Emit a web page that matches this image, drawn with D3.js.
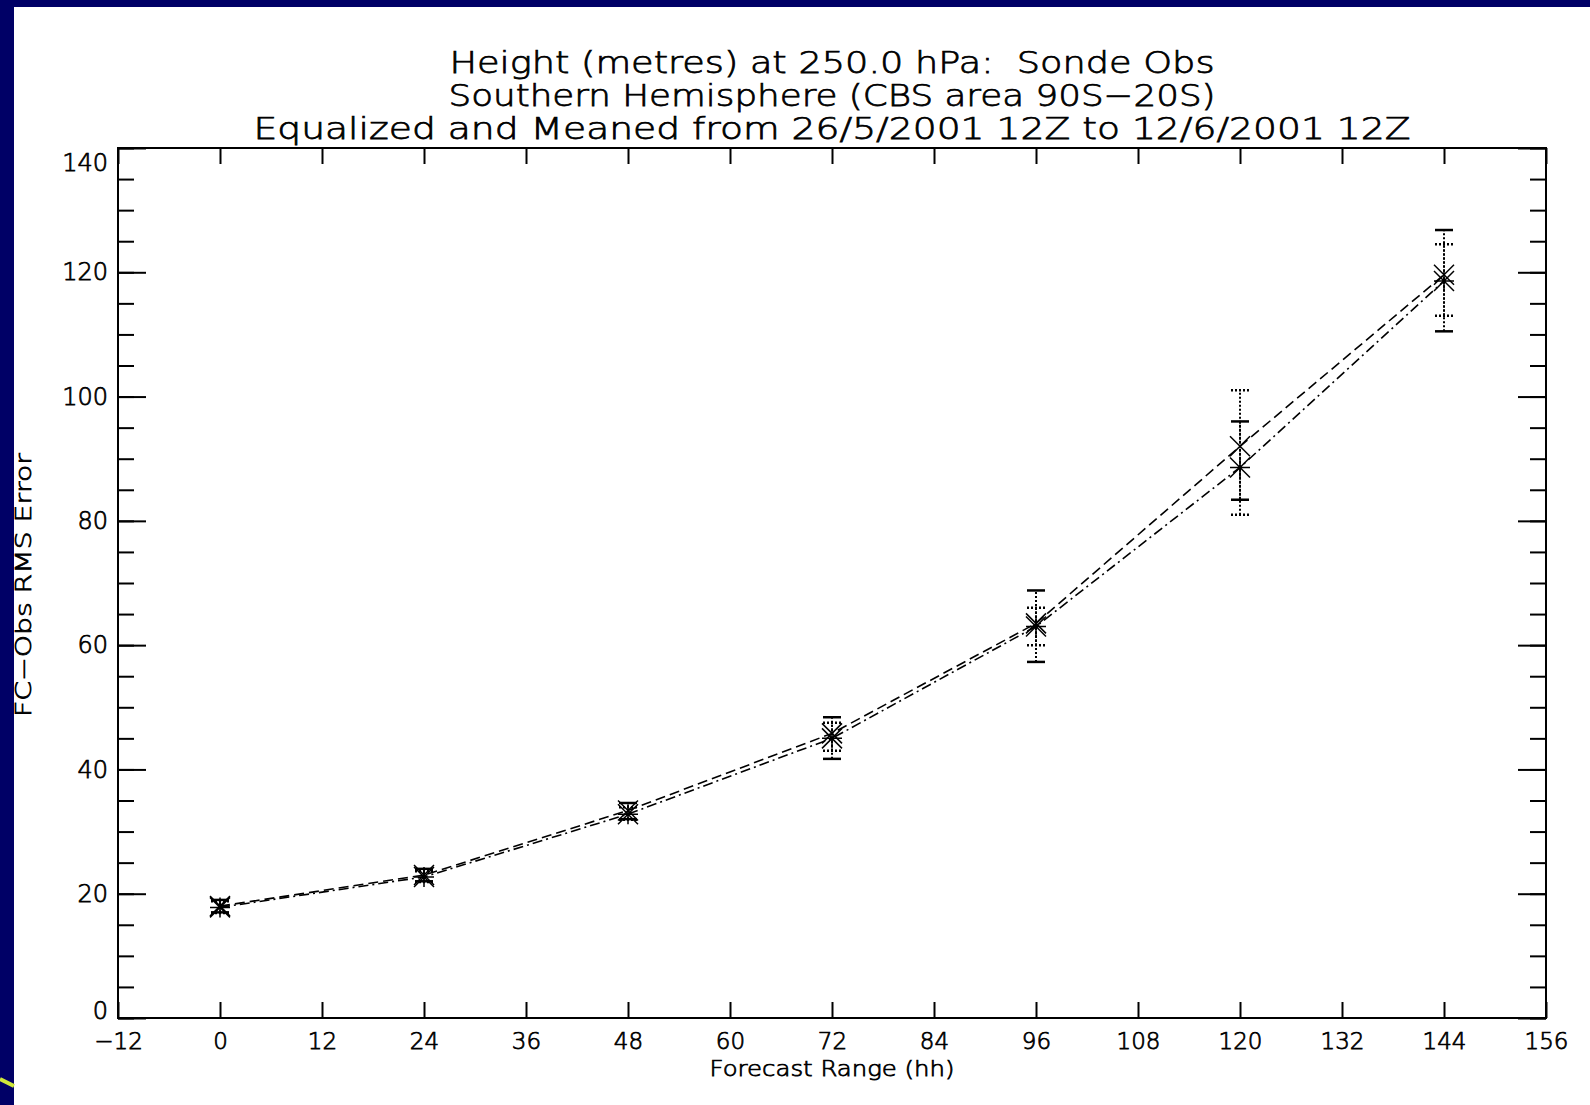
<!DOCTYPE html>
<html>
<head>
<meta charset="utf-8">
<script src="https://cdnjs.cloudflare.com/ajax/libs/d3/7.8.5/d3.min.js"></script>
<style>
  html, body { margin: 0; padding: 0; background: #000066; }
  svg { display: block; }
  text { font-family: "DejaVu Sans", "Liberation Sans", sans-serif; fill: #000; }
  .thin { font-weight: 200; stroke: #000; stroke-width: 0.75px; }
</style>
</head>
<body>
<svg id="chart" width="1590" height="1105"></svg>
<script>
// ---- data ----
const titleLines = [
  "Height (metres) at 250.0 hPa:  Sonde Obs",
  "Southern Hemisphere (CBS area 90S\u221220S)",
  "Equalized and Meaned from 26/5/2001 12Z to 12/6/2001 12Z"
];
const xLabel = "Forecast Range (hh)";
const yLabel = "FC\u2212Obs RMS Error";
const forecastRange = [0, 24, 48, 72, 96, 120, 144];
const xTicks = [-12, 0, 12, 24, 36, 48, 60, 72, 84, 96, 108, 120, 132, 144, 156];
const yTicks = [0, 20, 40, 60, 80, 100, 120, 140];
const yMinorTicks = [0,5,10,15,20,25,30,35,40,45,50,55,60,65,70,75,80,85,90,95,100,105,110,115,120,125,130,135,140];

// series A (dashed)
const rmsA   = [18.0, 23.0, 33.4, 45.8, 63.5, 92.0, 119.6];
const loA    = [17.0, 22.0, 32.0, 41.7, 57.3, 83.4, 110.5];
const hiA    = [19.0, 24.0, 34.6, 48.4, 68.8, 96.0, 126.8];
// series B (dash-dot)
const rmsB   = [17.8, 22.7, 32.8, 45.0, 63.0, 88.6, 118.6];
const loB    = [16.9, 21.9, 31.9, 43.0, 60.0, 81.0, 113.0];
const hiB    = [18.8, 23.6, 33.9, 47.5, 66.0, 101.0, 124.5];

// ---- layout ----
const svg = d3.select("#chart");
svg.append("rect").attr("x", 14).attr("y", 7).attr("width", 1576).attr("height", 1098).attr("fill", "#fff");
svg.append("path").attr("d", "M0,1079 L14,1086").attr("stroke", "#cfe83a").attr("stroke-width", 4).attr("fill", "none");

const L = 118, R = 1546, T = 148, B = 1018;
const x = d3.scaleLinear().domain([-12, 156]).range([L, R]);
const y = d3.scaleLinear().domain([0, 140]).range([B, T]);

// title
const cx = (L + R) / 2;
const titleWidths = [765, 767, 1157];
const titleBase = [73, 106, 139];
titleLines.forEach((t, i) => {
  svg.append("text").attr("class", "thin").attr("x", cx).attr("y", titleBase[i]).attr("text-anchor", "middle")
    .style("white-space", "pre")
    .attr("font-size", 31)
    .attr("textLength", titleWidths[i]).attr("lengthAdjust", "spacingAndGlyphs").text(t);
});

// axes
function styleAxis(g) {
  g.select(".domain").remove();
  g.selectAll(".tick line").attr("stroke", "#000").attr("stroke-width", 2);
  g.selectAll("text").attr("class", "thin").attr("fill", "#000").style("font-family", "DejaVu Sans, sans-serif");
}
const fmt = d3.format("d");
svg.append("g").attr("transform", `translate(0,${B})`)
  .call(d3.axisBottom(x).tickValues(xTicks).tickFormat(fmt).tickSizeInner(-16).tickSizeOuter(0).tickPadding(15))
  .call(styleAxis).call(g => g.selectAll("text").attr("font-size", 23));
svg.append("g").attr("transform", `translate(0,${T})`)
  .call(d3.axisTop(x).tickValues(xTicks).tickFormat("").tickSizeInner(-16).tickSizeOuter(0))
  .call(styleAxis);
svg.append("g").attr("transform", `translate(${L},0)`)
  .call(d3.axisLeft(y).tickValues(yMinorTicks).tickFormat("").tickSizeInner(-16).tickSizeOuter(0))
  .call(styleAxis);
svg.append("g").attr("transform", `translate(${L},0)`)
  .call(d3.axisLeft(y).tickValues(yTicks).tickFormat(fmt).tickSizeInner(-28).tickSizeOuter(0).tickPadding(10))
  .call(styleAxis)
  .call(g => g.selectAll("text").attr("font-size", 24)
    .attr("dy", d => d === 140 ? "0.95em" : d === 0 ? "0.0em" : "0.32em"));
svg.append("g").attr("transform", `translate(${R},0)`)
  .call(d3.axisRight(y).tickValues(yMinorTicks).tickFormat("").tickSizeInner(-16).tickSizeOuter(0))
  .call(styleAxis);
svg.append("g").attr("transform", `translate(${R},0)`)
  .call(d3.axisRight(y).tickValues(yTicks).tickFormat("").tickSizeInner(-28).tickSizeOuter(0))
  .call(styleAxis);

// frame
svg.append("rect").attr("x", L).attr("y", T).attr("width", R - L).attr("height", B - T)
  .attr("fill", "none").attr("stroke", "#000").attr("stroke-width", 2);

// axis labels
svg.append("text").attr("class", "thin").attr("x", cx).attr("y", 1076).attr("text-anchor", "middle")
  .attr("font-size", 22).attr("textLength", 245).attr("lengthAdjust", "spacingAndGlyphs").text(xLabel);
svg.append("text").attr("class", "thin").attr("transform", "translate(31,585) rotate(-90)").attr("text-anchor", "middle")
  .attr("font-size", 22).attr("textLength", 264).attr("lengthAdjust", "spacingAndGlyphs").text(yLabel);

// series
const line = d3.line().x(d => x(d[0])).y(d => y(d[1]));
function drawSeries(vals, lo, hi, dash, errDash, capDash, marker) {
  const pts = forecastRange.map((f, i) => [f, vals[i]]);
  svg.append("path").datum(pts).attr("d", line).attr("fill", "none")
    .attr("stroke", "#000").attr("stroke-width", 1.6).attr("stroke-dasharray", dash);
  const g = svg.append("g");
  forecastRange.forEach((f, i) => {
    const px = x(f);
    g.append("line").attr("x1", px).attr("x2", px).attr("y1", y(lo[i])).attr("y2", y(hi[i]))
      .attr("stroke", "#000").attr("stroke-width", 2).attr("stroke-dasharray", errDash);
    [lo[i], hi[i]].forEach(v => {
      g.append("line").attr("x1", px - 9).attr("x2", px + 9).attr("y1", y(v)).attr("y2", y(v))
        .attr("stroke", "#000").attr("stroke-width", 2.5).attr("stroke-dasharray", capDash);
    });
    const py = y(vals[i]);
    const s = 10;
    g.append("path").attr("d", `M${px - s},${py - s}L${px + s},${py + s}M${px - s},${py + s}L${px + s},${py - s}` +
        (marker === "star" ? `M${px - s},${py}L${px + s},${py}M${px},${py - s}L${px},${py + s}` : ""))
      .attr("stroke", "#000").attr("stroke-width", 1.5).attr("fill", "none");
  });
}
drawSeries(rmsA, loA, hiA, "10,5", "2,2", null, "x");
drawSeries(rmsB, loB, hiB, "10,4,2,4", "2,2", "2,2", "star");
</script>
</body>
</html>
